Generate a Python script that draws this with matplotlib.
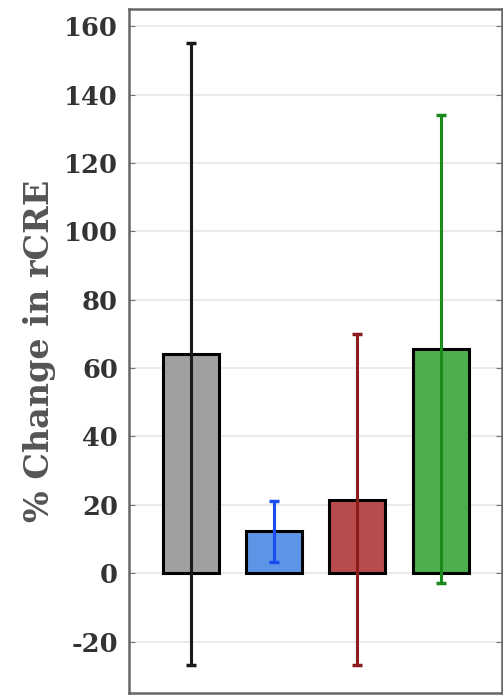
import matplotlib
matplotlib.use('Agg')
import matplotlib.pyplot as plt

groups = ['A', 'B', 'C', 'D']
means = [64, 12.2, 21.5, 65.5]
errors = [91, 9, 48.5, 68.5]
bar_colors = ['#a0a0a0', '#5c95e6', '#b84c4c', '#4cae4c']
err_colors = ['#1a1a1a', '#1a4df0', '#8c1c1c', '#1a8a1a']

plt.rcParams['font.family'] = 'DejaVu Serif'
plt.rcParams['font.weight'] = 'bold'
plt.rcParams['axes.unicode_minus'] = False

fig = plt.figure(figsize=(5.03, 6.97), dpi=100)
ax = fig.add_axes([0.2565, 0.006, 0.742, 0.981])

x = list(range(len(groups)))
ax.bar(x, means, width=0.67, color=bar_colors, edgecolor='black', linewidth=2.2, zorder=2)
for i in x:
    ax.errorbar(i, means[i], yerr=errors[i], color=err_colors[i], elinewidth=2.2,
                capsize=3.5, capthick=2.5, zorder=3)

ax.set_xlim(-0.74, 3.74)
ax.set_ylim(-35, 165)
ax.set_yticks(range(-20, 161, 20))
ax.set_xticks([])
ax.yaxis.grid(True, color='#e6e6e6', linewidth=1.2, zorder=0)
ax.tick_params(axis='y', direction='in', length=4, color='#777777', right=True,
               labelsize=18.5, labelcolor='#333333', pad=8)
for s in ax.spines.values():
    s.set_color('#666666')
    s.set_linewidth(1.8)
ax.set_ylabel('% Change in rCRE', fontsize=24, fontweight='bold', color='#555555', labelpad=6)

fig.savefig('out.png', dpi=100)
